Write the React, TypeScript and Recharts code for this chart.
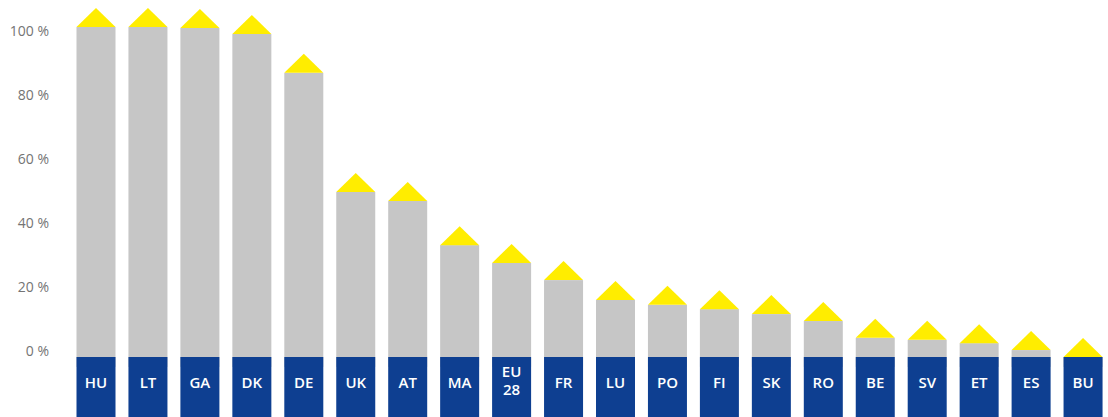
import React from 'react';
import { BarChart, Bar, XAxis, YAxis } from 'recharts';

const categories = ['HU', 'LT', 'GA', 'DK', 'DE', 'UK', 'AT', 'MA', 'EU 28', 'FR', 'LU', 'PO', 'FI', 'SK', 'RO', 'BE', 'SV', 'ET', 'ES', 'BU'];
const values = [100, 100, 99.7, 97.9, 86.1, 50, 47.3, 33.9, 28.5, 23.3, 17.3, 15.8, 14.5, 13, 10.9, 5.8, 5.2, 4.2, 2.1, 0];
const yTicks = [0, 20, 40, 60, 80, 100];

const DATA_DOMAIN: [number, number] = [-18.18, 108.18];
const LABEL_DOMAIN: [number, number] = [-20.9375, 109.375];
const HIDDEN_BASE = -3;
const TICK_RIGHT = 49;

const data = categories.map((code, i) => ({ code, value: values[i] }));

const GRAY = '#C6C6C6';
const YELLOW = '#FFED00';
const BLUE = '#0E3F91';
const FONT = '"Open Sans", sans-serif';

const GrayShape = (props: any) => {
  const { x, y, width, height } = props;
  const th = 19;
  return (
    <g>
      <rect x={x} y={y} width={width} height={height} fill={GRAY} />
      <polygon points={`${x},${y} ${x + width / 2},${y - th} ${x + width},${y}`} fill={YELLOW} />
    </g>
  );
};

const BlueShape = (props: any) => {
  const { x, y, width, height, payload } = props;
  const parts = String(payload.code).split(' ');
  const cx = x + width / 2;
  const st = { fontFamily: FONT, fontSize: 15, fontWeight: 600 };
  return (
    <g>
      <rect x={x} y={y} width={width} height={height} fill={BLUE} />
      {parts.length === 1 ? (
        <text x={cx} y={y + 25} textAnchor="middle" dominantBaseline="central" fill="#fff" style={st}>
          {parts[0]}
        </text>
      ) : (
        <text x={cx} y={y + 14} textAnchor="middle" dominantBaseline="central" fill="#fff" style={st}>
          <tspan x={cx}>{parts[0]}</tspan>
          <tspan x={cx} dy={18}>{parts[1]}</tspan>
        </text>
      )}
    </g>
  );
};

const YTick = (props: any) => {
  const { y, payload } = props;
  return (
    <text x={TICK_RIGHT} y={y} textAnchor="end" dominantBaseline="central" fill="#747474"
      style={{ fontFamily: FONT, fontSize: 14 }}>
      {`${payload.value} %`}
    </text>
  );
};

export default function App() {
  return (
    <div style={{ position: 'absolute', left: 0, top: 0, width: 1108, height: 417, overflow: 'hidden', background: '#fff' }}>
      <BarChart width={1109.5} height={417} data={data} margin={{ top: 0, right: 0, bottom: 0, left: 0 }}>
        <XAxis xAxisId="g" dataKey="code" hide />
        <XAxis xAxisId="b" dataKey="code" hide />
        <YAxis yAxisId="d" hide domain={DATA_DOMAIN} allowDataOverflow type="number" />
        <YAxis
          yAxisId="l"
          width={70.5}
          domain={LABEL_DOMAIN}
          allowDataOverflow
          type="number"
          ticks={yTicks}
          interval={0}
          axisLine={false}
          tickLine={false}
          tick={<YTick />}
        />
        <Bar
          xAxisId="g"
          yAxisId="d"
          dataKey={(d: any) => [HIDDEN_BASE, d.value]}
          barSize={39}
          shape={<GrayShape />}
          isAnimationActive={false}
        />
        <Bar
          xAxisId="b"
          yAxisId="d"
          dataKey={() => [DATA_DOMAIN[0], 0]}
          barSize={39}
          shape={<BlueShape />}
          isAnimationActive={false}
        />
      </BarChart>
    </div>
  );
}
